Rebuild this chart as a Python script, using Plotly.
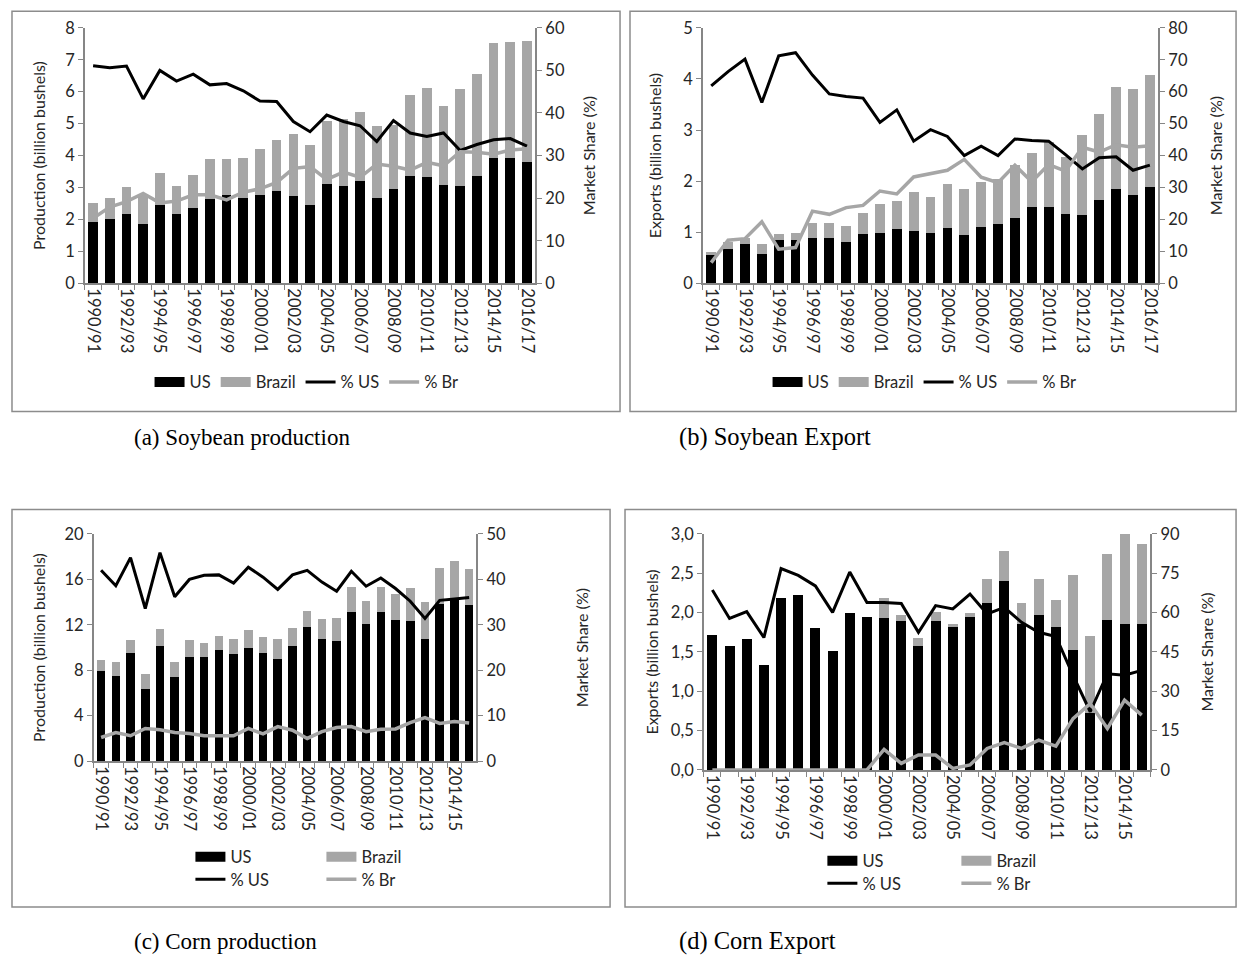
import plotly.graph_objects as go

# ---------------- data ----------------
seasons = ["1990/91", "1991/92", "1992/93", "1993/94", "1994/95", "1995/96", "1996/97",
           "1997/98", "1998/99", "1999/00", "2000/01", "2001/02", "2002/03", "2003/04",
           "2004/05", "2005/06", "2006/07", "2007/08", "2008/09", "2009/10", "2010/11",
           "2011/12", "2012/13", "2013/14", "2014/15", "2015/16", "2016/17"]
corn_seasons = seasons[:26]

# (a) Soybean production (billion bushels) and market share (%)
soy_prod_us = [1.91, 2.00, 2.18, 1.86, 2.46, 2.18, 2.37, 2.65, 2.75, 2.66, 2.75, 2.88, 2.72, 2.45,
               3.11, 3.06, 3.20, 2.66, 2.96, 3.36, 3.34, 3.09, 3.04, 3.36, 3.93, 3.93, 3.80]
soy_prod_br = [0.59, 0.68, 0.83, 0.95, 1.00, 0.88, 1.01, 1.25, 1.15, 1.27, 1.44, 1.61, 1.95, 1.87,
               1.96, 2.09, 2.17, 2.25, 1.99, 2.54, 2.76, 2.47, 3.03, 3.19, 3.58, 3.64, 3.80]
soy_prod_pct_us = [51.1, 50.6, 51.0, 43.3, 50.0, 47.5, 49.1, 46.6, 46.9, 45.2, 42.8, 42.7, 38.0, 35.6,
                   39.5, 38.0, 37.0, 33.3, 38.2, 35.3, 34.5, 35.3, 31.2, 32.6, 33.7, 34.0, 32.2]
soy_prod_pct_br = [15.3, 17.9, 19.2, 21.1, 18.9, 19.3, 20.8, 20.8, 19.6, 21.4, 22.2, 23.7, 27.0, 27.4,
                   24.4, 26.1, 24.9, 28.0, 27.5, 26.6, 28.4, 27.6, 30.9, 30.8, 30.3, 31.3, 31.6]

# (b) Soybean exports
soy_exp_us = [0.56, 0.68, 0.76, 0.57, 0.85, 0.85, 0.88, 0.88, 0.80, 0.97, 0.99, 1.06, 1.03, 0.99,
              1.09, 0.95, 1.11, 1.16, 1.28, 1.49, 1.50, 1.36, 1.33, 1.63, 1.85, 1.73, 1.88]
soy_exp_br = [0.05, 0.12, 0.12, 0.20, 0.12, 0.13, 0.31, 0.31, 0.32, 0.40, 0.57, 0.55, 0.76, 0.70,
              0.85, 0.90, 0.88, 0.89, 1.03, 1.07, 1.26, 1.11, 1.57, 1.68, 2.00, 2.08, 2.20]
soy_exp_pct_us = [61.8, 66.3, 70.2, 56.6, 71.2, 72.2, 65.2, 59.3, 58.5, 58.0, 50.4, 54.3, 44.5, 48.1,
                  46.0, 40.0, 42.9, 40.0, 45.2, 44.7, 44.5, 40.3, 35.8, 39.3, 39.6, 35.4, 37.0]
soy_exp_pct_br = [6.5, 13.5, 14.0, 19.3, 10.7, 11.2, 22.6, 21.6, 23.7, 24.4, 28.9, 28.0, 33.3, 34.3,
                  35.4, 38.8, 33.2, 31.5, 37.0, 31.8, 37.2, 35.1, 42.6, 41.1, 43.4, 42.6, 43.1]

# (c) Corn production
corn_prod_us = [7.92, 7.51, 9.52, 6.35, 10.10, 7.39, 9.20, 9.20, 9.75, 9.46, 9.96, 9.52, 9.00,
                10.10, 11.80, 10.77, 10.54, 13.10, 12.08, 13.10, 12.43, 12.37, 10.77, 13.83, 14.20, 13.74]
corn_prod_br = [0.98, 1.19, 1.13, 1.28, 1.50, 1.31, 1.45, 1.22, 1.28, 1.25, 1.60, 1.43, 1.71,
                1.66, 1.40, 1.73, 2.04, 2.27, 2.04, 2.20, 2.30, 2.88, 3.26, 3.20, 3.40, 3.14]
corn_prod_pct_us = [42.0, 38.6, 44.8, 33.6, 45.9, 36.2, 40.0, 40.9, 41.0, 39.2, 42.7, 40.5, 37.8,
                    41.0, 42.0, 39.4, 37.4, 41.8, 38.5, 40.3, 38.0, 35.2, 31.4, 35.4, 35.7, 36.0]
corn_prod_pct_br = [5.2, 6.3, 5.6, 7.2, 6.9, 6.3, 6.1, 5.6, 5.6, 5.6, 7.2, 6.0, 7.6,
                    6.8, 5.0, 6.5, 7.4, 7.6, 6.5, 7.0, 7.1, 8.5, 9.6, 8.3, 8.7, 8.4]

# (d) Corn exports
corn_exp_us = [1.72, 1.58, 1.66, 1.34, 2.18, 2.23, 1.80, 1.51, 1.99, 1.94, 1.93, 1.90, 1.57,
               1.89, 1.82, 1.94, 2.12, 2.40, 1.86, 1.97, 1.82, 1.53, 0.72, 1.91, 1.85, 1.85]
corn_exp_br = [0.00, 0.00, 0.00, 0.00, 0.00, 0.00, 0.00, 0.00, 0.00, 0.00, 0.25, 0.07, 0.11,
               0.12, 0.03, 0.06, 0.31, 0.39, 0.26, 0.46, 0.34, 0.95, 0.98, 0.83, 1.15, 1.02]
corn_exp_pct_us = [68.6, 57.8, 60.4, 50.5, 76.8, 74.2, 70.2, 60.1, 75.5, 63.9, 63.9, 63.5, 52.5,
                   62.7, 61.4, 67.1, 59.5, 62.0, 56.3, 52.5, 50.9, 36.1, 22.2, 36.7, 36.1, 38.0]
corn_exp_pct_br = [0.0, 0.0, 0.0, 0.0, 0.0, 0.0, 0.0, 0.3, 0.0, 0.0, 7.8, 2.5, 5.7,
                   5.7, 0.6, 1.9, 8.2, 10.4, 8.2, 11.4, 9.1, 19.6, 25.3, 15.8, 26.6, 20.9]

captions = ["(a) Soybean production", "(b) Soybean Export", "(c) Corn production", "(d) Corn Export"]

# ---------------- styling ----------------
W, H = 1246, 957
OFF = 8  # default page margin of the html body
FONT = "Lato, 'Open Sans', sans-serif"
TXT = "#262626"
AX = "#868686"
BLACK = "#000000"
GRAY = "#A6A6A6"
FS = 16.5


def px(x):
    return (x - OFF) / W


def py(y):
    return 1 - (y - OFF) / H


fig = go.Figure()

panels = [
    dict(cats=seasons, us=soy_prod_us, br=soy_prod_br, pus=soy_prod_pct_us, pbr=soy_prod_pct_br,
         x="x", y="y", y2="y2", legends=("legend", "legend")),
    dict(cats=seasons, us=soy_exp_us, br=soy_exp_br, pus=soy_exp_pct_us, pbr=soy_exp_pct_br,
         x="x2", y="y3", y2="y4", legends=("legend2", "legend2")),
    dict(cats=corn_seasons, us=corn_prod_us, br=corn_prod_br, pus=corn_prod_pct_us, pbr=corn_prod_pct_br,
         x="x3", y="y5", y2="y6", legends=("legend3", "legend4")),
    dict(cats=corn_seasons, us=corn_exp_us, br=corn_exp_br, pus=corn_exp_pct_us, pbr=corn_exp_pct_br,
         x="x4", y="y7", y2="y8", legends=("legend5", "legend6")),
]

for p in panels:
    lb, ll = p["legends"]
    fig.add_trace(go.Bar(x=p["cats"], y=p["us"], name="US", marker=dict(color=BLACK, line=dict(width=0)),
                         xaxis=p["x"], yaxis=p["y"], showlegend=False))
    fig.add_trace(go.Bar(x=p["cats"], y=p["br"], name="Brazil", marker=dict(color=GRAY, line=dict(width=0)),
                         xaxis=p["x"], yaxis=p["y"], showlegend=False))
    # legend keys drawn as wide blocks, like the spreadsheet legend
    fig.add_trace(go.Scatter(x=[None], y=[None], name="US", mode="lines", line=dict(color=BLACK, width=10),
                             xaxis=p["x"], yaxis=p["y"], legend=lb, hoverinfo="skip"))
    fig.add_trace(go.Scatter(x=[None], y=[None], name="Brazil", mode="lines", line=dict(color=GRAY, width=10),
                             xaxis=p["x"], yaxis=p["y"], legend=lb, hoverinfo="skip"))
    fig.add_trace(go.Scatter(x=p["cats"], y=p["pus"], name="% US", mode="lines",
                             line=dict(color=BLACK, width=3), xaxis=p["x"], yaxis=p["y2"], legend=ll))
    fig.add_trace(go.Scatter(x=p["cats"], y=p["pbr"], name="% Br", mode="lines",
                             line=dict(color=GRAY, width=3.5), xaxis=p["x"], yaxis=p["y2"], legend=ll))


def xaxis(cats, dom, anchor):
    return dict(domain=dom, anchor=anchor, type="category", tickmode="array", tickvals=cats,
                ticktext=[c if i % 2 == 0 else "" for i, c in enumerate(cats)],
                tickangle=90, ticks="outside", tickson="boundaries", ticklen=5, tickcolor=AX,
                showline=True, linecolor=AX, linewidth=1.5, showgrid=False, zeroline=False,
                tickfont=dict(family=FONT, size=FS, color=TXT))


def yleft(dom, anchor, rng, dtick, title, standoff, fmt=None):
    d = dict(domain=dom, anchor=anchor, range=rng, dtick=dtick, tick0=0, ticks="outside", ticklen=5,
             tickcolor=AX, showline=True, linecolor=AX, linewidth=1.5, showgrid=False, zeroline=False,
             tickfont=dict(family=FONT, size=FS, color=TXT),
             title=dict(text=title, font=dict(family=FONT, size=16, color=TXT), standoff=standoff))
    if fmt:
        d["tickformat"] = fmt
    return d


def yright(overlay, anchor, rng, dtick, standoff):
    return dict(overlaying=overlay, anchor=anchor, side="right", range=rng, dtick=dtick, tick0=0,
                ticks="outside", ticklen=5, tickcolor=AX, showline=True, linecolor=AX, linewidth=1.5,
                showgrid=False, zeroline=False, tickfont=dict(family=FONT, size=FS, color=TXT),
                title=dict(text="Market Share (%)", font=dict(family=FONT, size=16, color=TXT),
                           standoff=standoff))


ya = [py(279), py(18)]
yc = [py(767), py(535)]
yd = [py(776), py(535)]

fig.update_layout(
    xaxis=xaxis(seasons, [px(83), px(535)], "y"),
    xaxis2=xaxis(seasons, [px(703), px(1160)], "y3"),
    xaxis3=xaxis(corn_seasons, [px(92), px(476)], "y5"),
    xaxis4=xaxis(corn_seasons, [px(704), px(1152)], "y7"),
    yaxis=yleft(ya, "x", [0, 8], 1, "Production (billion bushels)", 16),
    yaxis2=yright("y", "x", [0, 60], 10, 20),
    yaxis3=yleft(ya, "x2", [0, 5], 1, "Exports (billion bushels)", 18),
    yaxis4=yright("y3", "x2", [0, 80], 10, 24),
    yaxis5=yleft(yc, "x3", [0, 20], 4, "Production (billion bushels)", 15),
    yaxis6=yright("y5", "x3", [0, 50], 10, 72),
    yaxis7=yleft(yd, "x4", [0, 3], 0.5, "Exports (billion bushels)", 8, fmt=".1f"),
    yaxis8=yright("y7", "x4", [0, 90], 15, 23),
)

leg_common = dict(orientation="h", font=dict(family=FONT, size=FS, color=TXT), bgcolor="rgba(0,0,0,0)",
                  traceorder="normal", itemwidth=30, xanchor="left", yanchor="middle")
fig.update_layout(
    legend=dict(leg_common, x=px(148), y=py(380)),
    legend2=dict(leg_common, x=px(768), y=py(380)),
    legend3=dict(leg_common, x=px(189), y=py(865), entrywidthmode="pixels", entrywidth=86),
    legend4=dict(leg_common, x=px(189), y=py(888), entrywidthmode="pixels", entrywidth=86),
    legend5=dict(leg_common, x=px(823), y=py(869), entrywidthmode="pixels", entrywidth=89),
    legend6=dict(leg_common, x=px(823), y=py(892), entrywidthmode="pixels", entrywidth=89),
)

# panel frames
frames = [(10, 1, 620, 410), (630, 1, 1238, 410), (10, 510, 610, 916), (625, 510, 1238, 916)]
for (x0, y0, x1, y1) in frames:
    fig.add_shape(type="rect", xref="paper", yref="paper", x0=px(x0), y0=py(y0), x1=px(x1), y1=py(y1),
                  line=dict(color="#8c8c8c", width=1.5), fillcolor="rgba(0,0,0,0)", layer="below")

cap_pos = [(130, 436, 23), (677, 436, 24.5), (130, 951, 23), (677, 951, 24.5)]
for text, (cx, cy, cs) in zip(captions, cap_pos):
    fig.add_annotation(text=text, xref="paper", yref="paper", x=px(cx), y=py(cy), xanchor="left",
                       yanchor="middle", showarrow=False,
                       font=dict(family="'Liberation Serif', 'Times New Roman', serif", size=cs, color="#000"))

fig.update_layout(
    width=W, height=H, margin=dict(l=0, r=0, t=0, b=0), autosize=False,
    paper_bgcolor="white", plot_bgcolor="white",
    barmode="stack", bargap=0.42, separators=",.",
    showlegend=True,
)

fig.write_html("out.html")
